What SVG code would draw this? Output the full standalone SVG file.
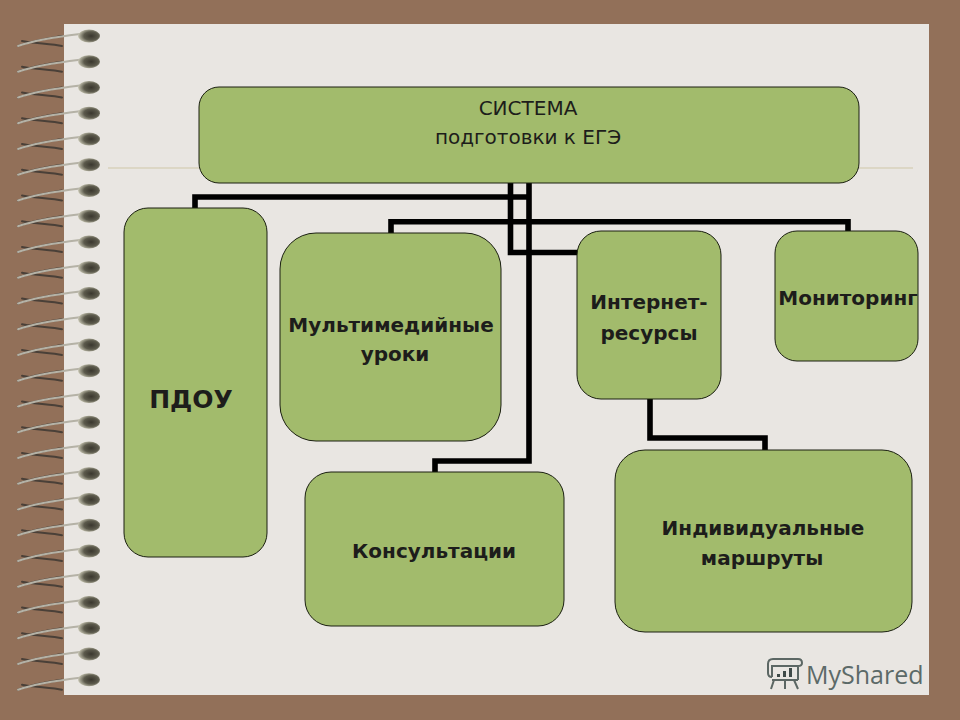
<svg xmlns="http://www.w3.org/2000/svg" width="960" height="720" viewBox="0 0 960 720">
<style>
.box{fill:#a2bb6c;stroke:#1a1f10;stroke-width:1}
.t{font-family:"DejaVu Sans","Noto Sans",sans-serif;fill:#1d1d1b;text-anchor:middle;font-weight:700;stroke:none}
.c{fill:none;stroke:#000;stroke-width:5.6;stroke-linejoin:miter}
.r1{fill:none;stroke:#4a4038;stroke-width:2;stroke-linecap:round}
.r2{fill:none;stroke:#b5b2a6;stroke-width:2;stroke-linecap:round}
.wm{fill:none;stroke:#5c6764;stroke-width:2}
</style>
<defs>
<radialGradient id="bead" cx="0.6" cy="0.5" r="0.6">
<stop offset="0" stop-color="#3a372e"/><stop offset="0.55" stop-color="#5c5a4c"/><stop offset="1" stop-color="#c9c7b4"/>
</radialGradient>
<g id="ring">
<path class="r1" d="M62 46C52 44 30 43 22 41"/>
<path class="r1" d="M18 46C30 41 45 39 62 36" stroke-width="1.5"/>
<path class="r2" d="M18 46C35 40 55 37 80 34"/>
<ellipse cx="89" cy="36" rx="11" ry="6.5" fill="url(#bead)"/>
</g>
</defs>
<rect width="960" height="720" fill="#927059"/>
<rect x="64" y="24" width="865" height="671" fill="#e9e6e2"/>
<line x1="108" y1="168" x2="913" y2="168" stroke="#cfc7a8" stroke-width="1"/>
<g id="spiral">
<use href="#ring" y="0"/><use href="#ring" y="25.7"/><use href="#ring" y="51.5"/><use href="#ring" y="77.2"/><use href="#ring" y="103"/>
<use href="#ring" y="128.7"/><use href="#ring" y="154.5"/><use href="#ring" y="180.2"/><use href="#ring" y="206"/><use href="#ring" y="231.7"/>
<use href="#ring" y="257.5"/><use href="#ring" y="283.2"/><use href="#ring" y="309"/><use href="#ring" y="334.7"/><use href="#ring" y="360.5"/>
<use href="#ring" y="386.2"/><use href="#ring" y="412"/><use href="#ring" y="437.7"/><use href="#ring" y="463.5"/><use href="#ring" y="489.2"/>
<use href="#ring" y="515"/><use href="#ring" y="540.7"/><use href="#ring" y="566.5"/><use href="#ring" y="592.2"/><use href="#ring" y="618"/><use href="#ring" y="643.7"/>
</g>
<g id="connectors">
<path class="c" d="M195 208V197H529"/>
<path class="c" d="M391 233V221.800H848V231"/>
<path class="c" d="M510.500 183V252.500H578"/>
<path class="c" d="M529 183V461H435V472"/>
<path class="c" d="M650 398V438H765V450"/>
</g>
<g id="node-system"><rect class="box" x="199" y="87" width="660" height="96" rx="20"/>
<text class="t" x="528" y="115" font-size="20" font-weight="400" style="font-weight:400">СИСТЕМА</text>
<text class="t" x="528" y="144" font-size="20" style="font-weight:400">подготовки к ЕГЭ</text></g>
<g id="node-pdou"><rect class="box" x="124" y="208" width="143" height="349" rx="24"/>
<text class="t" x="191" y="408" font-size="25">ПДОУ</text></g>
<g id="node-multimedia"><rect class="box" x="280" y="233" width="221" height="208" rx="36"/>
<text class="t" x="391" y="332" font-size="20">Мультимедийные</text>
<text class="t" x="395" y="361" font-size="20">уроки</text></g>
<g id="node-internet"><rect class="box" x="577" y="231" width="144" height="168" rx="24"/>
<text class="t" x="649" y="309" font-size="20">Интернет-</text>
<text class="t" x="649" y="340" font-size="20">ресурсы</text></g>
<g id="node-monitoring"><rect class="box" x="775" y="231" width="143" height="130" rx="22"/>
<text class="t" x="848" y="305" font-size="20">Мониторинг</text></g>
<g id="node-consult"><rect class="box" x="305" y="472" width="259" height="154" rx="26"/>
<text class="t" x="434" y="558" font-size="20">Консультации</text></g>
<g id="node-routes"><rect class="box" x="615" y="450" width="297" height="182" rx="30"/>
<text class="t" x="763" y="535" font-size="20">Индивидуальные</text>
<text class="t" x="762" y="565" font-size="20">маршруты</text></g>
<g id="watermark">
<path class="wm" d="M772 677V666H798V680M768 673V664Q768 659 773 659H798Q802 659 802 663Q802 666 798 666M772 677Q768 677 768 673M772 680H798M774 680L771 689M785 680V689M794 680L798 689"/>
<rect x="777" y="674" width="3" height="3" fill="#3f4a48"/><rect x="783" y="671" width="3" height="6" fill="#3f4a48"/><rect x="789" y="668" width="3" height="9" fill="#3f4a48"/>
<text x="806" y="684" font-family="'Open Sans','Noto Sans',sans-serif" font-size="25" fill="#5c6a68">MyShared</text>
</g>
</svg>
